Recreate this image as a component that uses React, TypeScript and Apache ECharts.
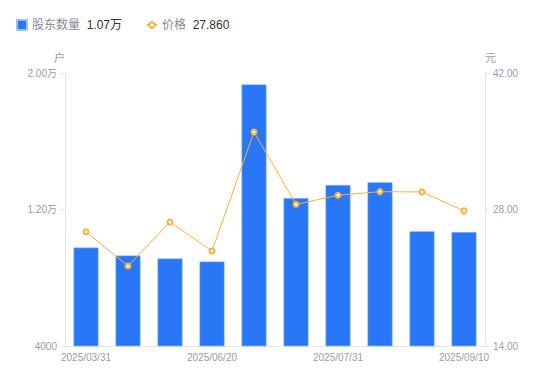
import React, { useEffect, useRef } from "react";
import * as echarts from "echarts";

const categories = [
  "2025/03/31", "2025/04/30", "2025/05/31", "2025/06/20", "2025/06/30",
  "2025/07/10", "2025/07/31", "2025/08/20", "2025/08/31", "2025/09/10",
];
const holders = [9770, 9300, 9130, 8950, 19330, 12670, 13440, 13590, 10720, 10680];
const prices = [25.72, 22.2, 26.72, 23.74, 35.95, 28.53, 29.46, 29.83, 29.8, 27.86];
const leftTicks = { min: 4000, max: 20000, interval: 8000 };
const rightTicks = { min: 14, max: 42, interval: 14 };
const legendValues: Record<string, string> = { "股东数量": "1.07万", "价格": "27.860" };

const BLUE = "#2878f5";
const ORANGE = "#f8b040";
const AXIS_LINE = "#e3e3e8";
const LABEL = "#9a9aae";
const FONT = "'Liberation Sans', 'Noto Sans CJK SC', sans-serif";

const legendText = {
  rich: {
    n: { color: "#8a8a99", fontSize: 12, fontFamily: FONT },
    v: { color: "#333333", fontSize: 12, fontFamily: FONT },
  },
};
const legendFormatter = (name: string) => `{n|${name}}  {v|${legendValues[name]}}`;

export default function App() {
  const ref = useRef<HTMLDivElement>(null);
  useEffect(() => {
    const chart = echarts.init(ref.current!, undefined, { renderer: "svg" });
    chart.setOption({
      animation: false,
      textStyle: { fontFamily: FONT },
      legend: [
        {
          left: 16,
          top: 19,
          padding: 0,
          itemWidth: 10,
          itemHeight: 10,
          data: [{ name: "股东数量", icon: "rect" }],
          formatter: legendFormatter,
          textStyle: legendText,
        },
        {
          left: 146,
          top: 19,
          padding: 0,
          itemWidth: 10,
          itemHeight: 7,
          data: [{ name: "价格" }],
          formatter: legendFormatter,
          textStyle: legendText,
        },
      ],
      grid: { left: 65, right: 65, top: 73, bottom: 35 },
      xAxis: {
        type: "category",
        data: categories,
        axisLine: { lineStyle: { color: AXIS_LINE } },
        axisTick: { show: false },
        axisLabel: { interval: 2, color: LABEL, fontSize: 10, margin: 6 },
      },
      yAxis: [
        {
          type: "value",
          name: "户",
          nameGap: 10,
          nameTextStyle: { color: LABEL, fontSize: 11, align: "right" },
          min: leftTicks.min,
          max: leftTicks.max,
          interval: leftTicks.interval,
          axisLine: { show: true, lineStyle: { color: AXIS_LINE } },
          axisTick: { show: true, length: 4, lineStyle: { color: AXIS_LINE } },
          splitLine: { show: false },
          axisLabel: {
            color: LABEL,
            fontSize: 10,
            margin: 8,
            formatter: (v: number) => (v >= 10000 ? (v / 10000).toFixed(2) + "万" : String(v)),
          },
        },
        {
          type: "value",
          name: "元",
          nameGap: 10,
          nameTextStyle: { color: LABEL, fontSize: 11, align: "left" },
          min: rightTicks.min,
          max: rightTicks.max,
          interval: rightTicks.interval,
          axisLine: { show: true, lineStyle: { color: AXIS_LINE } },
          axisTick: { show: true, length: 4, lineStyle: { color: AXIS_LINE } },
          splitLine: { show: false },
          axisLabel: {
            color: LABEL,
            fontSize: 10,
            margin: 8,
            formatter: (v: number) => v.toFixed(2),
          },
        },
      ],
      series: [
        {
          name: "股东数量",
          type: "bar",
          yAxisIndex: 0,
          data: holders,
          barWidth: 25,
          itemStyle: { color: BLUE, borderColor: "#9cc0fa", borderWidth: 0.5 },
        },
        {
          name: "价格",
          type: "line",
          yAxisIndex: 1,
          data: prices,
          symbol: "emptyCircle",
          symbolSize: 5,
          lineStyle: { color: ORANGE, width: 1 },
          itemStyle: { color: ORANGE, borderWidth: 2 },
        },
      ],
    });
    return () => chart.dispose();
  }, []);
  return <div ref={ref} style={{ width: 550, height: 381, margin: -8 }} />;
}
